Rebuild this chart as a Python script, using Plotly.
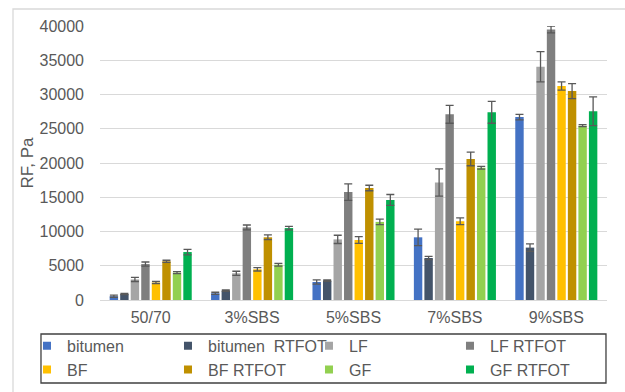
import plotly.graph_objects as go

categories = ["50/70", "3%SBS", "5%SBS", "7%SBS", "9%SBS"]

series_names = ["bitumen", "bitumen\u00a0 RTFOT", "LF", "LF RTFOT",
                "BF", "BF RTFOT", "GF", "GF RTFOT"]

colors = ["#4472C4", "#44546A", "#A5A5A5", "#7F7F7F",
          "#FFC000", "#BF9000", "#92D050", "#00B050"]

bitumen = [550, 980, 2630, 9150, 26700]
bitumen_rtfot = [870, 1360, 2820, 6130, 7650]
lf = [3000, 3900, 8850, 17150, 34050]
lf_rtfot = [5250, 10600, 15750, 27100, 39500]
bf = [2550, 4480, 8760, 11500, 31250]
bf_rtfot = [5650, 9150, 16350, 20600, 30500]
gf = [4000, 5150, 11400, 19300, 25450]
gf_rtfot = [7000, 10500, 14600, 27400, 27550]

bitumen_err = [150, 150, 300, 1200, 400]
bitumen_rtfot_err = [80, 100, 100, 250, 550]
lf_err = [300, 300, 600, 2000, 2200]
lf_rtfot_err = [300, 350, 1200, 1300, 500]
bf_err = [150, 250, 500, 500, 600]
bf_rtfot_err = [150, 350, 400, 1000, 1100]
gf_err = [150, 200, 400, 200, 150]
gf_rtfot_err = [400, 250, 800, 1600, 2100]

values = [bitumen, bitumen_rtfot, lf, lf_rtfot, bf, bf_rtfot, gf, gf_rtfot]
errors = [bitumen_err, bitumen_rtfot_err, lf_err, lf_rtfot_err,
          bf_err, bf_rtfot_err, gf_err, gf_rtfot_err]

y_ticks = [0, 5000, 10000, 15000, 20000, 25000, 30000, 35000, 40000]

FONT = "Liberation Sans, Arial, sans-serif"
TEXT_GREY = "#595959"
GRID = "#D9D9D9"

fig = go.Figure()
for name, color, vals, errs in zip(series_names, colors, values, errors):
    fig.add_trace(go.Bar(
        name=name,
        legendgroup=name,
        showlegend=False,
        x=categories,
        y=vals,
        marker=dict(color=color, line=dict(width=0)),
        error_y=dict(type="data", array=errs, visible=True,
                     color=TEXT_GREY, thickness=1.3, width=4),
    ))

# legend-only entries with small square swatches
for name, color in zip(series_names, colors):
    fig.add_trace(go.Scatter(
        name=name,
        legendgroup=name,
        x=[None], y=[None],
        mode="markers",
        marker=dict(symbol="square", size=8, color=color),
        hoverinfo="skip",
    ))

fig.update_layout(
    width=625, height=392,
    margin=dict(l=100, r=18, t=26, b=92, autoexpand=False),
    paper_bgcolor="white",
    plot_bgcolor="white",
    barmode="group",
    bargap=0.17,
    bargroupgap=0.2,
    font=dict(family=FONT, size=16, color=TEXT_GREY),
    xaxis=dict(
        showgrid=False,
        showline=True, linecolor=GRID, linewidth=1.3,
        ticks="", tickfont=dict(size=16, color=TEXT_GREY),
        ticklabelstandoff=3,
    ),
    yaxis=dict(
        range=[0, 40000],
        tickvals=y_ticks,
        ticktext=[str(v) for v in y_ticks],
        showgrid=True, gridcolor=GRID, gridwidth=1.3,
        zeroline=False, showline=False,
        ticks="", tickfont=dict(size=16, color=TEXT_GREY),
        ticklabelstandoff=15,
        title=dict(text="RF, Pa", font=dict(size=17, color=TEXT_GREY), standoff=1),
    ),
    legend=dict(
        orientation="h",
        x=-0.144, xanchor="left",
        y=-0.105, yanchor="top",
        borderwidth=0,
        bgcolor="rgba(0,0,0,0)",
        font=dict(size=16, color=TEXT_GREY),
        entrywidth=96, entrywidthmode="pixels",
        itemwidth=30,
        traceorder="normal",
    ),
    shapes=[
        # outer chart frame (top and left edges)
        dict(type="path", xref="paper", yref="paper",
             path="M -0.1716 -0.5 L -0.1716 1.062 L 1.2 1.062",
             line=dict(color=GRID, width=1.3)),
        # legend frame
        dict(type="rect", xref="paper", yref="paper",
             x0=-0.1164, x1=0.998, y0=-0.3029, y1=-0.1241,
             line=dict(color="#404040", width=1.3)),
    ],
)

fig.write_html("out.html")
